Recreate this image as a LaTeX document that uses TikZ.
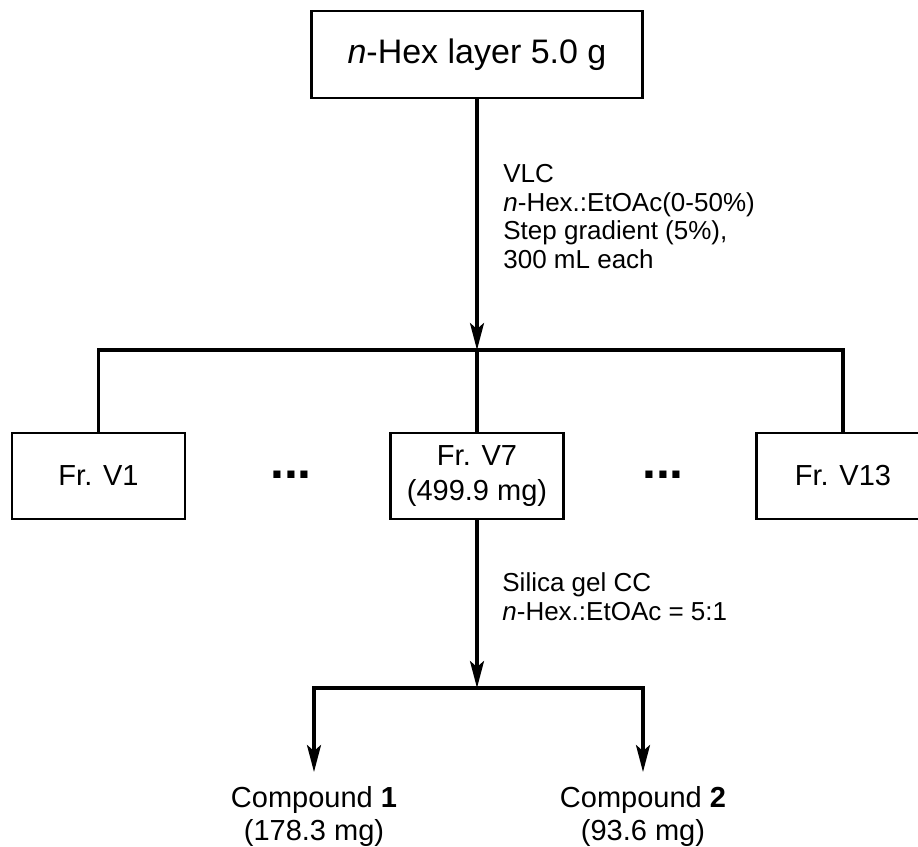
\documentclass[tikz,border=0pt]{standalone}
\usepackage{fontspec}
\setmainfont{Liberation Sans}
\usetikzlibrary{calc,arrows.meta}

\begin{document}
\begin{tikzpicture}[x=0.5pt,y=-0.5pt,
  fracbox/.style={draw,line width=1.3pt,minimum width=86.5pt,minimum height=43pt,
    align=center,inner sep=0pt,font=\fontsize{14.5}{17.5}\selectfont},
  conn/.style={line width=1.6pt},
  tip/.style={-{Stealth[length=13.5pt,width=7pt,inset=3pt]}},
  note/.style={anchor=base west,align=left,inner sep=0pt,font=\fontsize{13}{14.2}\selectfont},
  dots/.style={anchor=base,inner sep=0pt,font=\fontsize{25}{25}\selectfont\bfseries}]
  \useasboundingbox (0,0) rectangle (918,847);
  \clip (0,0) rectangle (918,847);

  %% Starting layer
  \node[draw,line width=1.3pt,minimum width=165.5pt,minimum height=43.5pt,inner sep=0pt,
    font=\fontsize{17}{20}\selectfont] (HEX) at (477,54.5) {\textit{n}-Hex layer 5.0 g};

  %% VLC fractions
  \foreach \name/\x/\txt in {V1/98.5/{Fr. V1},V7/477/{Fr. V7\\(499.9 mg)},V13/843/{Fr. V13}}
    \node[fracbox] (\name) at (\x,476) {\txt};
  \node[dots] (DOTSL) at (291,478) {...};
  \node[dots] (DOTSR) at (663,478) {...};

  %% VLC separation (base anchor = last line)
  \coordinate (J1) at (477,350);
  \draw[conn,tip] (HEX) -- (J1);
  \draw[conn] (V1.north) |- (J1) -| (V13.north);
  \draw[conn] (J1) -- (V7);
  \node[note] (VLC) at (503,268) {VLC\\\textit{n}-Hex.:EtOAc(0-50\%)\\Step gradient (5\%),\\300 mL each};

  %% Silica gel column
  \coordinate (J2) at (477,688);
  \draw[conn,tip] (V7) -- (J2);
  \node[note] (SIL) at (502,620) {Silica gel CC\\\textit{n}-Hex.:EtOAc = 5:1};
  \foreach \name/\x/\num/\mass in {C1/314/1/178.3,C2/643/2/93.6}
  {
    \node[anchor=north,inner sep=7pt,align=center,font=\fontsize{14.5}{16.5}\selectfont]
      (\name) at (\x,772) {Compound \textbf{\num}\\(\mass\ mg)};
    \draw[conn,tip] (J2) -| (\name.north);
  }
\end{tikzpicture}
\end{document}
